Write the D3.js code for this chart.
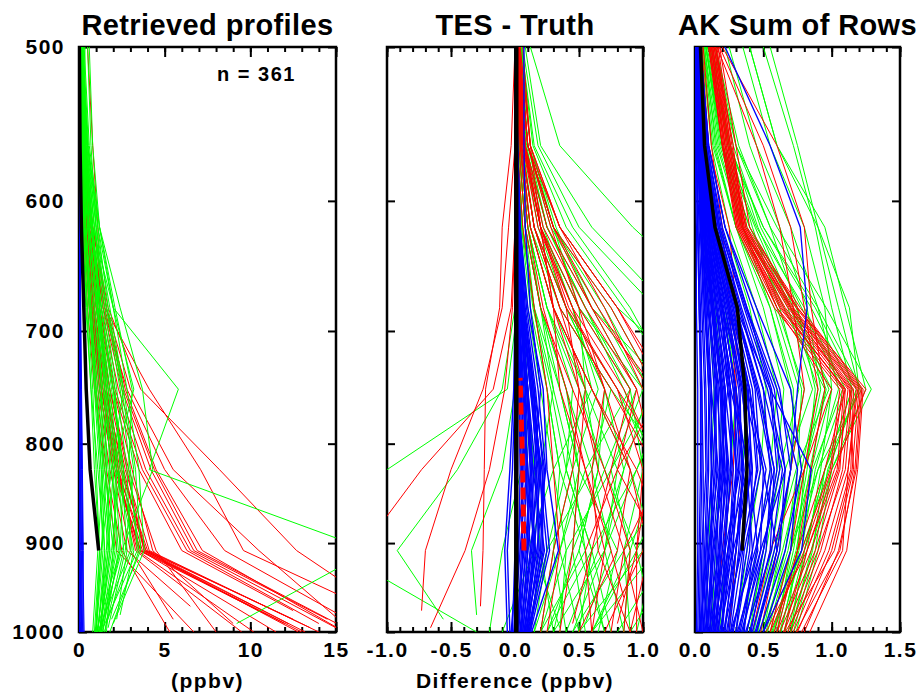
<!DOCTYPE html>
<html>
<head>
<meta charset="utf-8">
<script src="https://cdn.jsdelivr.net/npm/d3@7"></script>
<style>
  html, body { margin: 0; padding: 0; background: #fff; }
  svg { display: block; font-family: "Liberation Sans", Arial, Helvetica, sans-serif; font-weight: bold; }
</style>
</head>
<body>
<div id="chart"></div>
<script>
// pressure levels (hPa) of the profile columns, after the surface point
const LEVELS = [908, 825, 750, 681, 619, 562, 500];
const pTicks = [500, 600, 700, 800, 900, 1000];

// each row: [surface p, value at surface, values at LEVELS...]
const retBlue = [
  [1000,0.15,0.12,0.08,0.05,0.03,0.02,0.01,0.01],
  [1000,0.25,0.20,0.15,0.10,0.06,0.03,0.02,0.01],
  [1000,0.10,0.08,0.06,0.04,0.02,0.01,0.01,0.00],
  [1000,0.30,0.22,0.18,0.12,0.08,0.05,0.03,0.02],
  [1000,0.05,0.05,0.04,0.03,0.02,0.01,0.00,0.00],
  [1000,0.20,0.25,0.20,0.15,0.10,0.06,0.03,0.02],
  [1000,0.12,0.15,0.12,0.10,0.07,0.05,0.03,0.02],
  [1000,0.02,0.03,0.03,0.02,0.01,0.01,0.00,0.00]
];
const retGreen = [
  [1000,1.0,1.4,1.2,0.9,0.6,0.3,0.15,0.05],
  [1000,1.2,1.8,1.6,1.2,0.8,0.4,0.2,0.1],
  [1000,1.3,2.2,2.0,1.5,1.0,0.6,0.3,0.1],
  [1000,1.5,2.6,2.3,1.8,1.2,0.7,0.3,0.15],
  [1000,1.1,3.0,2.8,2.2,1.5,0.9,0.4,0.2],
  [995,1.4,3.4,3.0,2.4,1.6,1.0,0.5,0.2],
  [990,2.0,3.8,3.5,2.8,2.0,1.2,0.6,0.3],
  [1000,0.9,1.2,1.0,0.8,0.5,0.25,0.1,0.05],
  [1000,1.1,1.6,1.8,1.6,1.1,0.6,0.25,0.1],
  [985,2.2,2.8,2.5,2.0,1.3,0.8,0.35,0.15],
  [1000,1.6,2.0,1.5,1.1,0.7,0.35,0.15,0.05],
  [1000,1.2,1.9,2.4,2.1,1.4,0.9,0.45,0.2],
  [1000,1.0,2.4,2.6,2.0,1.3,0.7,0.3,0.1],
  [980,2.4,3.2,2.2,1.7,1.1,0.6,0.25,0.1],
  [1000,1.3,1.5,1.3,1.0,0.7,0.4,0.2,0.1],
  [1000,0.8,1.1,1.4,1.3,0.9,0.5,0.2,0.1],
  [1000,1.4,2.1,1.7,1.3,1.1,1.0,0.7,0.5],
  [1000,1.8,3.5,2.9,3.1,2.1,1.2,0.8,0.6],
  [990,9.2,17,4.1,5.8,2.0,0.8,0.3,0.1],
  [1000,1.2,1.7,2.0,3.2,2.0,1.1,0.5,0.2],
  [1000,1.0,1.3,1.9,2.6,1.6,0.9,0.4,0.15],
  [1000,1.5,2.3,1.9,1.4,0.9,0.5,0.2,0.1],
  [1000,1.1,1.5,1.1,0.7,0.45,0.2,0.1,0.05],
  [995,1.7,2.7,3.2,2.5,1.7,1.1,0.55,0.25],
  [1000,1.3,2.0,2.2,1.7,1.2,0.8,0.4,0.2],
  [1000,0.95,1.3,1.6,1.5,1.2,0.7,0.3,0.1],
  [1000,1.2,2.5,4.3,3.7,2.4,1.2,0.5,0.2],
  [1000,1.0,1.2,0.9,0.7,0.4,0.2,0.1,0.04],
  [985,1.9,3.6,3.3,2.6,1.8,1.0,0.45,0.2],
  [1000,1.25,1.8,1.4,1.0,0.65,0.4,0.3,0.35],
  [1000,1.05,1.7,1.3,0.95,0.6,0.3,0.12,0.05],
  [1000,1.35,2.4,2.1,1.6,1.05,0.55,0.25,0.1],
  [990,1.6,3.1,2.6,1.9,1.3,0.75,0.35,0.15]
];
const retRed = [
  [1000,13.0,3.7,2.3,1.4,0.8,0.4,0.15,0.05],
  [990,12.0,3.6,2.0,1.2,0.7,0.35,0.1,0.05],
  [985,12.5,3.9,2.5,1.6,0.9,0.5,0.2,0.1],
  [1000,14.0,4.1,2.7,1.7,1.0,0.5,0.2,0.1],
  [980,11.0,3.5,2.2,1.3,0.8,0.4,0.15,0.05],
  [1000,12.8,3.8,2.6,1.5,0.9,0.45,0.2,0.1],
  [995,13.5,4.0,2.4,1.5,0.85,0.4,0.2,0.1],
  [1000,11.5,3.6,2.1,1.3,0.7,0.3,0.1,0.05],
  [990,12.2,3.8,2.8,1.8,1.1,0.55,0.25,0.1],
  [1000,13.2,3.9,2.2,1.4,0.75,0.35,0.15,0.05],
  [995,15.0,6.5,3.9,2.3,1.3,0.6,0.25,0.1],
  [985,14.5,6.7,4.2,2.5,1.4,0.7,0.3,0.1],
  [1000,16.0,6.9,4.4,2.6,1.5,0.7,0.3,0.1],
  [990,14.0,6.3,3.7,2.1,1.2,0.55,0.2,0.1],
  [975,12.5,6.0,3.5,2.0,1.1,0.5,0.2,0.1],
  [1000,15.5,7.2,4.5,2.7,1.6,0.8,0.3,0.1],
  [985,5.5,3.0,2.0,1.2,0.7,0.35,0.15,0.05],
  [970,6.5,2.8,1.8,1.1,0.6,0.3,0.1,0.05],
  [1000,8.0,4.5,2.9,1.8,1.0,0.5,0.2,0.1],
  [1000,10.2,3.4,2.2,1.3,0.8,0.4,0.15,0.05],
  [990,9.0,4.3,3.1,2.0,1.2,0.6,0.25,0.1],
  [1000,5.3,2.5,1.6,1.0,0.6,0.3,0.1,0.05],
  [1000,6.7,2.2,1.5,0.9,0.5,0.25,0.1,0.05],
  [960,15.5,9.6,7.1,4.1,1.5,0.6,0.2,0.1],
  [950,16.0,12.7,8.2,3.6,1.7,0.8,0.3,0.1],
  [1000,16.0,10.5,5.5,3.0,1.6,0.8,0.35,0.15],
  [1000,17.0,8.5,5.0,2.8,1.4,0.7,0.3,0.1],
  [1000,9.5,3.3,2.3,1.6,1.2,1.1,0.8,0.5]
];
const retMean = [1.15,0.65,0.42,0.28,0.14,0.06,0.02];

const difBlue = [
  [1000,0.02,0.05,0.06,0.04,0.02,0.01,0.0,0.0],
  [1000,0.05,0.10,0.10,0.07,0.03,0.01,0.01,0.0],
  [1000,0.08,0.14,0.14,0.10,0.05,0.02,0.01,0.0],
  [1000,0.10,0.18,0.18,0.12,0.06,0.03,0.01,0.0],
  [1000,0.12,0.20,0.22,0.16,0.08,0.04,0.02,0.01],
  [1000,-0.02,0.0,0.02,0.02,0.01,0.0,0.0,0.0],
  [1000,-0.04,-0.06,-0.02,0.0,0.0,0.0,0.0,0.0],
  [1000,0.13,0.34,0.25,0.22,0.10,0.04,0.02,0.01],
  [1000,0.04,0.08,0.12,0.10,0.05,0.02,0.01,0.0],
  [1000,0.06,0.12,0.08,0.05,0.03,0.01,0.0,0.0],
  [1000,0.09,0.16,0.12,0.08,0.04,0.02,0.01,0.0],
  [1000,0.05,0.10,0.15,0.20,0.12,0.08,0.07,0.07],
  [990,0.10,0.15,0.20,0.14,0.07,0.03,0.01,0.0],
  [1000,0.0,0.03,0.04,0.03,0.02,0.01,0.0,0.0],
  [1000,0.11,0.22,0.20,0.14,0.07,0.03,0.01,0.0],
  [1000,-0.06,-0.08,-0.04,-0.01,0.0,0.0,0.0,0.0],
  [1000,0.07,0.17,0.24,0.18,0.09,0.04,0.02,0.01],
  [1000,0.03,0.06,0.05,0.03,0.02,0.01,0.0,0.0],
  [1000,0.09,0.19,0.16,0.10,0.05,0.02,0.01,0.0],
  [1000,0.01,0.07,0.09,0.06,0.03,0.01,0.0,0.0],
  [1000,0.11,0.25,0.19,0.13,0.06,0.03,0.01,0.0],
  [1000,-0.03,0.02,0.07,0.05,0.02,0.01,0.0,0.0],
  [1000,0.06,0.13,0.17,0.13,0.06,0.02,0.01,0.0],
  [1000,0.08,0.21,0.23,0.15,0.07,0.03,0.01,0.0],
  [1000,0.02,0.09,0.13,0.09,0.04,0.02,0.0,0.0],
  [1000,0.10,0.23,0.14,0.09,0.04,0.02,0.01,0.0],
  [1000,0.04,0.12,0.19,0.15,0.07,0.03,0.01,0.0],
  [1000,-0.01,0.04,0.09,0.08,0.04,0.02,0.0,0.0],
  [1000,0.07,0.15,0.10,0.06,0.03,0.01,0.0,0.0],
  [1000,0.12,0.27,0.21,0.12,0.05,0.02,0.01,0.0]
];
const difGreen = [
  [1000,0.30,0.45,0.50,0.35,0.15,0.05,0.02,0.01],
  [1000,0.45,0.70,0.80,0.55,0.25,0.10,0.04,0.02],
  [1000,0.60,0.90,1.10,0.80,0.40,0.15,0.05,0.02],
  [1000,0.25,0.60,0.95,1.20,0.60,0.25,0.10,0.04],
  [1000,0.80,1.20,1.40,1.00,0.50,0.20,0.08,0.03],
  [990,0.55,0.75,0.60,0.40,0.20,0.08,0.03,0.01],
  [1000,0.20,0.30,0.35,0.25,0.12,0.05,0.02,0.01],
  [1000,0.15,0.25,0.40,0.45,0.25,0.10,0.04,0.02],
  [1000,0.70,0.50,0.65,0.70,0.40,0.18,0.07,0.03],
  [1000,0.90,0.85,1.30,1.50,0.80,0.35,0.10,0.04],
  [1000,0.35,0.40,0.30,0.20,0.10,0.04,0.02,0.01],
  [1000,1.10,0.95,0.70,0.50,0.25,0.10,0.04,0.02],
  [1000,0.50,0.35,0.55,0.90,0.55,0.25,0.08,0.03],
  [1000,1.00,1.30,1.60,2.00,1.60,0.92,0.35,0.12],
  [1000,0.60,1.10,1.50,1.80,1.20,0.60,0.20,0.08],
  [985,-0.56,-0.92,-0.45,-0.10,0.0,0.01,0.01,0.0],
  [980,-0.30,-0.34,-0.10,0.0,0.02,0.01,0.0,0.0],
  [1000,-0.30,-1.40,-1.00,-0.06,0.02,0.01,0.0,0.0],
  [1000,0.05,0.10,0.30,0.60,0.45,0.20,0.07,0.02],
  [1000,0.20,0.55,0.35,0.25,0.15,0.08,0.03,0.01],
  [1000,0.40,0.65,0.85,1.05,0.70,0.30,0.10,0.04],
  [1000,-0.20,-0.10,0.05,0.10,0.06,0.03,0.01,0.0],
  [1000,0.85,0.70,0.95,1.25,0.90,0.45,0.15,0.05],
  [1000,0.30,0.20,0.15,0.10,0.05,0.02,0.01,0.0],
  [1000,0.65,0.80,0.50,0.35,0.20,0.10,0.04,0.02],
  [1000,0.95,1.10,0.90,0.60,0.30,0.12,0.05,0.02],
  [1000,0.10,0.25,0.60,0.75,0.35,0.12,0.04,0.01],
  [1000,0.75,0.60,0.40,0.55,0.50,0.30,0.12,0.05],
  [1000,0.50,1.00,1.20,0.75,0.35,0.15,0.06,0.02],
  [1000,1.20,1.40,1.10,0.85,0.55,0.25,0.08,0.03],
  [1000,0.40,0.30,0.45,0.65,0.45,0.22,0.09,0.03],
  [1000,0.85,0.90,0.75,1.00,0.65,0.28,0.10,0.04],
  [1000,-0.10,0.15,0.20,0.30,0.20,0.08,0.03,0.01],
  [1000,0.55,0.45,0.70,0.95,0.60,0.32,0.12,0.05],
  [1000,0.30,0.70,0.85,0.70,0.40,0.15,0.05,0.02],
  [1000,0.45,0.85,1.00,0.90,0.50,0.20,0.07,0.02],
  [1000,0.25,0.50,0.65,0.55,0.30,0.12,0.04,0.01],
  [1000,0.60,0.95,1.25,1.30,0.85,0.40,0.14,0.05],
  [1000,0.90,1.30,1.50,1.60,1.10,0.50,0.18,0.06],
  [1000,0.15,0.35,0.50,0.40,0.20,0.08,0.03,0.01],
  [1000,0.70,0.55,0.45,0.30,0.15,0.06,0.02,0.01],
  [995,0.35,0.15,0.10,0.08,0.05,0.02,0.01,0.0],
  [1000,0.20,0.40,0.75,1.10,0.75,0.30,0.10,0.03],
  [1000,0.50,0.60,0.40,0.28,0.14,0.06,0.02,0.01]
];
const difRed = [
  [1000,0.85,0.90,0.70,0.45,0.20,0.08,0.03,0.01],
  [1000,1.10,1.20,0.95,0.60,0.30,0.12,0.04,0.02],
  [1000,0.70,1.00,1.10,0.75,0.35,0.15,0.05,0.02],
  [1000,0.50,0.80,0.90,0.60,0.30,0.12,0.05,0.02],
  [1000,1.30,1.40,1.20,0.80,0.40,0.15,0.05,0.02],
  [1000,0.60,0.70,0.55,0.40,0.22,0.10,0.04,0.01],
  [1000,0.90,0.65,0.60,0.70,0.45,0.20,0.07,0.03],
  [1000,1.20,1.15,0.80,0.95,0.60,0.30,0.10,0.03],
  [960,0.85,0.75,0.55,0.35,0.30,0.20,0.08,0.03],
  [1000,0.35,0.45,0.50,0.55,0.35,0.15,0.05,0.02],
  [1000,1.50,1.60,1.30,1.00,0.70,0.35,0.12,0.04],
  [975,-0.73,-0.70,-0.50,-0.25,-0.10,-0.05,0.0,0.0],
  [1000,-1.30,-1.20,-0.73,-0.17,-0.03,0.0,0.0,0.0],
  [970,-0.27,-0.25,-0.24,-0.23,-0.12,-0.10,-0.03,0.0],
  [995,-0.66,-0.39,-0.20,-0.08,-0.02,0.0,0.0,0.0],
  [1000,0.20,0.30,0.45,0.50,0.40,0.20,0.07,0.02],
  [1000,0.95,0.95,1.05,1.10,0.75,0.30,0.10,0.03],
  [1000,0.25,0.35,0.30,0.25,0.15,0.06,0.02,0.01],
  [1000,1.00,0.85,0.65,0.50,0.30,0.20,0.12,0.06],
  [1000,0.60,0.55,0.80,1.15,0.80,0.35,0.10,0.03],
  [990,0.45,0.60,0.75,0.90,0.50,0.20,0.06,0.02],
  [1000,0.75,0.85,1.15,0.85,0.45,0.18,0.06,0.02],
  [1000,1.40,1.50,1.35,1.10,0.60,0.25,0.08,0.03],
  [1000,1.60,1.70,1.40,1.05,0.65,0.30,0.10,0.03],
  [1000,1.20,1.30,1.25,1.20,0.80,0.35,0.12,0.04],
  [1000,0.90,1.05,0.90,0.70,0.50,0.28,0.10,0.03],
  [990,0.80,0.95,1.00,0.80,0.42,0.20,0.07,0.02],
  [1000,1.30,1.20,1.10,0.95,0.55,0.22,0.08,0.02]
];
const difMean = [0.01,0.01,0.01,0.01,0.01,0.01,0.01,0.01];  // at 1000 + LEVELS
const difMedianP = [908, 825, 740];
const difMedian = [0.07, 0.06, 0.04];

const akBlue = [
  [1000,0.05,0.06,0.06,0.05,0.03,0.02,0.01,0.0],
  [1000,0.10,0.12,0.12,0.10,0.07,0.04,0.02,0.01],
  [1000,0.15,0.18,0.20,0.16,0.10,0.05,0.02,0.01],
  [1000,0.20,0.25,0.28,0.22,0.14,0.07,0.03,0.01],
  [1000,0.25,0.32,0.35,0.28,0.18,0.09,0.04,0.02],
  [1000,0.30,0.40,0.42,0.34,0.22,0.11,0.05,0.02],
  [1000,0.35,0.48,0.50,0.40,0.26,0.13,0.06,0.02],
  [1000,0.40,0.55,0.58,0.47,0.30,0.15,0.07,0.03],
  [1000,0.45,0.62,0.66,0.53,0.34,0.17,0.08,0.03],
  [1000,0.50,0.70,0.75,0.60,0.38,0.19,0.09,0.04],
  [1000,0.02,0.03,0.04,0.04,0.03,0.02,0.01,0.0],
  [1000,0.08,0.10,0.15,0.14,0.10,0.06,0.03,0.01],
  [1000,0.12,0.20,0.25,0.20,0.12,0.06,0.03,0.01],
  [1000,0.18,0.30,0.35,0.32,0.22,0.12,0.05,0.02],
  [1000,0.28,0.38,0.45,0.40,0.27,0.14,0.06,0.02],
  [1000,0.32,0.45,0.55,0.50,0.33,0.17,0.07,0.03],
  [1000,0.38,0.50,0.62,0.56,0.38,0.20,0.09,0.04],
  [1000,0.42,0.58,0.70,0.62,0.42,0.22,0.10,0.04],
  [1000,0.22,0.28,0.30,0.25,0.17,0.09,0.04,0.02],
  [1000,0.14,0.16,0.18,0.17,0.12,0.07,0.03,0.01],
  [1000,0.06,0.08,0.10,0.10,0.08,0.05,0.02,0.01],
  [1000,0.26,0.35,0.40,0.36,0.25,0.12,0.05,0.02],
  [1000,0.34,0.50,0.60,0.55,0.36,0.18,0.08,0.03],
  [1000,0.47,0.66,0.78,0.70,0.45,0.22,0.10,0.04],
  [1000,0.50,0.78,0.85,0.55,0.30,0.15,0.07,0.03],
  [1000,0.44,0.60,0.50,0.35,0.20,0.10,0.05,0.02],
  [1000,0.36,0.42,0.38,0.30,0.20,0.10,0.05,0.02],
  [1000,0.09,0.14,0.20,0.22,0.16,0.08,0.03,0.01],
  [1000,0.17,0.22,0.26,0.26,0.20,0.10,0.04,0.02],
  [1000,0.24,0.30,0.36,0.30,0.20,0.10,0.04,0.01],
  [1000,0.30,0.36,0.48,0.44,0.30,0.15,0.06,0.02],
  [1000,0.04,0.05,0.08,0.07,0.05,0.03,0.01,0.0],
  [1000,0.19,0.24,0.32,0.28,0.18,0.09,0.04,0.01],
  [1000,0.41,0.52,0.56,0.45,0.29,0.14,0.06,0.02],
  [1000,0.45,0.60,0.70,0.75,0.82,0.77,0.55,0.22],
  [1000,0.11,0.13,0.22,0.18,0.09,0.04,0.02,0.01],
  [1000,0.27,0.42,0.52,0.38,0.24,0.12,0.05,0.02],
  [1000,0.16,0.26,0.31,0.24,0.15,0.08,0.03,0.01],
  [1000,0.37,0.56,0.64,0.50,0.32,0.16,0.07,0.03],
  [1000,0.07,0.18,0.24,0.19,0.13,0.07,0.03,0.01],
  [1000,0.21,0.34,0.46,0.42,0.28,0.13,0.06,0.02],
  [1000,0.33,0.46,0.40,0.26,0.16,0.08,0.04,0.01],
  [1000,0.13,0.24,0.38,0.35,0.23,0.11,0.05,0.02],
  [1000,0.03,0.10,0.17,0.12,0.07,0.04,0.02,0.01],
  [1000,0.01,0.02,0.02,0.02,0.01,0.01,0.0,0.0],
  [1000,0.03,0.04,0.05,0.05,0.04,0.02,0.01,0.0],
  [1000,0.05,0.07,0.09,0.08,0.06,0.04,0.02,0.01],
  [1000,0.07,0.09,0.12,0.12,0.09,0.05,0.02,0.01],
  [1000,0.09,0.12,0.16,0.15,0.11,0.06,0.03,0.01],
  [1000,0.11,0.15,0.19,0.19,0.14,0.08,0.03,0.01],
  [1000,0.13,0.18,0.23,0.22,0.16,0.09,0.04,0.02],
  [1000,0.15,0.21,0.27,0.26,0.19,0.10,0.04,0.02],
  [1000,0.17,0.24,0.30,0.29,0.21,0.11,0.05,0.02],
  [1000,0.19,0.27,0.34,0.33,0.24,0.12,0.05,0.02],
  [1000,0.21,0.30,0.38,0.36,0.26,0.13,0.06,0.02],
  [1000,0.23,0.33,0.41,0.39,0.28,0.14,0.06,0.02],
  [1000,0.04,0.08,0.13,0.16,0.13,0.07,0.03,0.01],
  [1000,0.08,0.13,0.18,0.24,0.19,0.10,0.04,0.01],
  [1000,0.12,0.17,0.21,0.20,0.13,0.07,0.03,0.01],
  [1000,0.16,0.19,0.22,0.19,0.12,0.06,0.02,0.01],
  [1000,0.20,0.22,0.24,0.21,0.13,0.06,0.03,0.01],
  [1000,0.06,0.11,0.14,0.11,0.08,0.05,0.02,0.01],
  [1000,0.26,0.44,0.58,0.46,0.30,0.15,0.07,0.03],
  [1000,0.31,0.48,0.66,0.58,0.37,0.18,0.08,0.03],
  [1000,0.14,0.28,0.42,0.38,0.25,0.12,0.05,0.02],
  [1000,0.10,0.22,0.33,0.30,0.20,0.10,0.04,0.02]
];
const akGreen = [
  [1000,0.55,0.70,0.85,1.00,0.70,0.40,0.20,0.08],
  [1000,0.60,0.75,0.90,1.10,0.80,0.45,0.22,0.10],
  [1000,0.50,0.68,0.80,0.95,0.65,0.38,0.18,0.08],
  [1000,0.65,0.80,0.95,1.15,0.85,0.50,0.25,0.10],
  [1000,0.70,0.85,1.00,1.29,0.96,0.60,0.30,0.12],
  [1000,0.45,0.60,0.70,0.80,0.60,0.35,0.17,0.07],
  [1000,0.58,0.72,0.82,0.88,0.75,0.55,0.32,0.15],
  [1000,0.62,0.78,0.88,1.05,0.90,0.70,0.45,0.25],
  [1000,0.68,0.82,0.92,1.00,0.95,0.80,0.55,0.35],
  [1000,0.72,0.88,0.97,1.20,1.05,0.90,0.75,0.55],
  [1000,0.70,0.86,0.95,1.15,1.00,0.88,0.72,0.50],
  [1000,0.50,0.62,0.70,0.72,0.55,0.30,0.15,0.07],
  [1000,0.40,0.50,0.60,0.65,0.50,0.30,0.14,0.06],
  [1000,0.35,0.45,0.55,0.60,0.45,0.25,0.12,0.05],
  [1000,0.30,0.38,0.48,0.52,0.40,0.22,0.10,0.04],
  [1000,0.25,0.30,0.35,0.38,0.30,0.18,0.08,0.03],
  [1000,0.12,0.15,0.18,0.20,0.15,0.10,0.05,0.02],
  [1000,0.18,0.22,0.26,0.30,0.22,0.12,0.06,0.02],
  [1000,0.08,0.10,0.12,0.14,0.10,0.06,0.03,0.01],
  [1000,0.52,0.66,0.75,0.78,0.62,0.42,0.25,0.12],
  [1000,0.60,0.70,0.78,0.70,0.55,0.35,0.20,0.09],
  [1000,0.66,0.75,0.80,0.92,0.82,0.62,0.40,0.22],
  [1000,0.74,0.90,1.00,1.25,1.10,0.95,0.60,0.40],
  [1000,0.56,0.78,0.98,1.18,0.88,0.50,0.24,0.10],
  [1000,0.48,0.64,0.78,0.90,0.70,0.44,0.20,0.08],
  [1000,0.43,0.56,0.66,0.86,0.68,0.34,0.16,0.06],
  [1000,0.38,0.52,0.62,0.76,0.58,0.30,0.13,0.05],
  [1000,0.63,0.76,0.86,1.08,0.78,0.48,0.28,0.14],
  [1000,0.53,0.70,0.90,1.22,0.90,0.55,0.30,0.15],
  [1000,0.70,0.80,0.95,1.20,1.13,0.90,0.60,0.40],
  [1000,0.46,0.58,0.74,0.98,0.74,0.40,0.19,0.08],
  [1000,0.57,0.74,0.84,0.96,0.72,0.46,0.26,0.11]
];
const akRed = [
  [1000,0.60,0.85,1.05,1.12,0.65,0.33,0.22,0.12],
  [1000,0.65,0.90,1.10,1.15,0.68,0.34,0.23,0.13],
  [1000,0.70,0.95,1.12,1.18,0.70,0.35,0.24,0.14],
  [1000,0.55,0.80,1.00,1.08,0.60,0.31,0.20,0.11],
  [1000,0.75,1.00,1.15,1.20,0.72,0.36,0.25,0.15],
  [1000,0.80,1.05,1.18,1.22,0.75,0.37,0.26,0.16],
  [1000,0.50,0.78,0.99,1.06,0.58,0.30,0.20,0.10],
  [1000,0.62,0.88,1.06,1.10,0.63,0.32,0.21,0.12],
  [1000,0.68,0.92,1.08,1.14,0.66,0.33,0.22,0.12],
  [1000,0.84,1.11,1.19,1.23,0.77,0.38,0.27,0.17],
  [1000,0.58,0.75,0.95,1.10,0.62,0.31,0.20,0.10],
  [1000,0.72,0.98,1.14,1.16,0.70,0.34,0.23,0.13],
  [1000,0.66,1.02,1.16,1.13,0.69,0.35,0.24,0.13],
  [1000,0.78,1.08,1.12,1.19,0.71,0.36,0.25,0.14],
  [1000,0.55,0.70,0.80,0.90,0.80,0.70,0.50,0.18],
  [1000,0.60,0.75,0.85,0.95,0.85,0.80,0.60,0.20],
  [1000,0.48,0.60,0.70,0.80,0.72,0.62,0.45,0.16],
  [1000,0.42,0.55,0.80,1.00,0.60,0.35,0.28,0.15],
  [1000,0.65,0.82,1.02,1.25,0.75,0.40,0.30,0.18],
  [1000,0.25,0.30,0.35,0.30,0.25,0.20,0.12,0.06],
  [1000,0.15,0.20,0.28,0.30,0.30,0.25,0.10,0.05],
  [1000,0.52,0.82,1.04,1.09,0.64,0.32,0.21,0.11],
  [1000,0.74,1.06,1.17,1.21,0.74,0.37,0.26,0.15]
];
const akMean = [0.345,0.38,0.365,0.31,0.146,0.07,0.04];

const W = 922, H = 695;
const plotTop = 47, plotBottom = 632;
const y = d3.scaleLog().domain([500, 1000]).range([plotTop, plotBottom]);
const colors = { green: '#00ff00', red: '#ff0000', blue: '#0000ff' };

const panels = [
  { x0: 79, x1: 336, domain: [0, 15], major: [0, 5, 10, 15], minor: 1, fmt: d => String(d),
    title: 'Retrieved profiles', xlabel: '(ppbv)', yLabels: true, order: ['red', 'green', 'blue'],
    green: retGreen, red: retRed, blue: retBlue, meanP: LEVELS, mean: retMean, meanW: 3.5, blueW: 1 },
  { x0: 387, x1: 643, domain: [-1, 1], major: [-1, -0.5, 0, 0.5, 1], minor: 0.1, fmt: d => d.toFixed(1),
    title: 'TES - Truth', xlabel: 'Difference (ppbv)', order: ['green', 'red', 'blue'],
    green: difGreen, red: difRed, blue: difBlue, meanP: [1000].concat(LEVELS), mean: difMean, meanW: 4.5,
    medP: difMedianP, med: difMedian, blueW: 1.4 },
  { x0: 695, x1: 900, domain: [0, 1.5], major: [0, 0.5, 1, 1.5], minor: 0.1, fmt: d => d.toFixed(1),
    title: 'AK Sum of Rows', order: ['green', 'red', 'blue'],
    green: akGreen, red: akRed, blue: akBlue, meanP: LEVELS, mean: akMean, meanW: 3.5, blueW: 1.3 }
];

const svg = d3.select('#chart').append('svg')
  .attr('width', W).attr('height', H)
  .attr('viewBox', `0 0 ${W} ${H}`);

const rowPoints = r => [{ p: r[0], v: r[1] }].concat(LEVELS.map((p, i) => ({ p, v: r[i + 2] })));

panels.forEach((P, k) => {
  const x = d3.scaleLinear().domain(P.domain).range([P.x0, P.x1]);
  const minors = d3.range(P.domain[0], P.domain[1] + 1e-9, P.minor).map(v => +v.toFixed(3));
  const g = svg.append('g');

  const styleAxis = a => {
    a.select('.domain').remove();
    a.selectAll('line').attr('stroke', '#000').attr('stroke-width', 2);
    a.selectAll('text').attr('fill', '#000')
      .attr('font-family', '"Liberation Sans", Arial, sans-serif').attr('font-weight', 'bold')
      .attr('font-size', 21).style('letter-spacing', '1.5px');
  };

  // ticks first, the profiles are drawn over them
  g.append('g').attr('transform', `translate(0,${plotBottom})`)
    .call(d3.axisBottom(x).tickValues(minors).tickSize(-5).tickFormat('')).call(styleAxis);
  g.append('g').attr('transform', `translate(0,${plotTop})`)
    .call(d3.axisTop(x).tickValues(minors).tickSize(-5).tickFormat('')).call(styleAxis);
  g.append('g').attr('transform', `translate(0,${plotTop})`)
    .call(d3.axisTop(x).tickValues(P.major).tickSize(-10).tickFormat('')).call(styleAxis);
  g.append('g').attr('transform', `translate(0,${plotBottom})`)
    .call(d3.axisBottom(x).tickValues(P.major).tickSize(-10).tickPadding(10).tickFormat(P.fmt))
    .call(styleAxis);

  g.append('g').attr('transform', `translate(${P.x0},0)`)
    .call(d3.axisLeft(y).tickValues(pTicks).tickSize(-8).tickPadding(14)
      .tickFormat(P.yLabels ? d3.format('d') : ''))
    .call(styleAxis);
  g.append('g').attr('transform', `translate(${P.x1},0)`)
    .call(d3.axisRight(y).tickValues(pTicks).tickSize(-8).tickFormat('')).call(styleAxis);

  g.append('rect')
    .attr('x', P.x0).attr('y', plotTop)
    .attr('width', P.x1 - P.x0).attr('height', plotBottom - plotTop)
    .attr('fill', 'none').attr('stroke', '#000').attr('stroke-width', 2.5);

  // profiles
  svg.append('clipPath').attr('id', 'clip' + k)
    .append('rect').attr('x', P.x0).attr('y', plotTop)
    .attr('width', P.x1 - P.x0).attr('height', plotBottom - plotTop);
  const lines = g.append('g').attr('clip-path', `url(#clip${k})`);
  const line = d3.line().x(d => x(d.v)).y(d => y(d.p));

  P.order.forEach(key => {
    lines.append('g').selectAll('path')
      .data(P[key])
      .join('path')
      .attr('d', r => line(rowPoints(r)))
      .attr('fill', 'none').attr('stroke', colors[key])
      .attr('stroke-width', key === 'blue' ? P.blueW : 1);
  });

  if (P.med) {
    lines.append('path')
      .attr('d', line(P.medP.map((p, i) => ({ p, v: P.med[i] }))))
      .attr('fill', 'none').attr('stroke', '#ff0000').attr('stroke-width', 5)
      .attr('stroke-dasharray', '12,5');
  }
  lines.append('path')
    .attr('d', line(P.meanP.map((p, i) => ({ p, v: P.mean[i] }))))
    .attr('fill', 'none').attr('stroke', '#000').attr('stroke-width', P.meanW);

  // titles and labels
  g.append('text').attr('x', (P.x0 + P.x1) / 2).attr('y', 35)
    .attr('text-anchor', 'middle').attr('font-size', 29)
    .style('letter-spacing', '0.4px').text(P.title);
  if (P.xlabel) {
    g.append('text').attr('x', (P.x0 + P.x1) / 2).attr('y', 688)
      .attr('text-anchor', 'middle').attr('font-size', 21)
      .style('letter-spacing', '1.5px').text(P.xlabel);
  }
});

svg.append('text').attr('x', 217).attr('y', 81)
  .attr('font-size', 20).style('letter-spacing', '1.5px').text('n = 361');
</script>
</body>
</html>
